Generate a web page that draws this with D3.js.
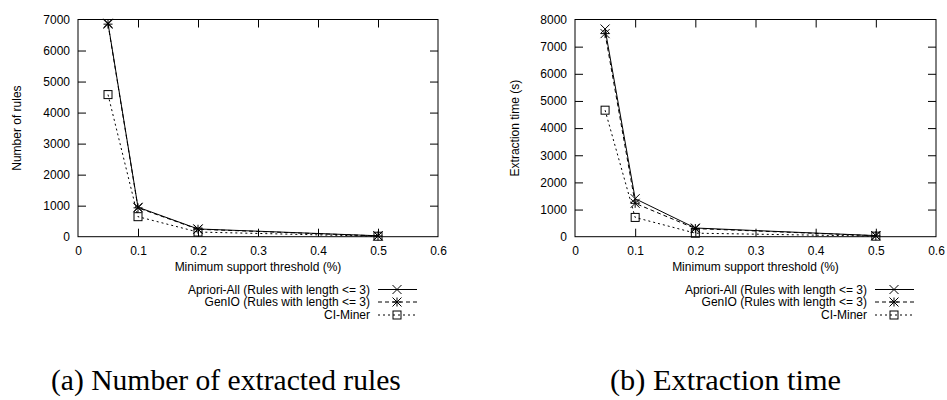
<!DOCTYPE html>
<html><head><meta charset="utf-8">
<script src="https://cdn.jsdelivr.net/npm/d3@7"></script>
<style>
body{margin:0;background:#fff;}
svg{display:block;}
text{fill:#000;}
</style></head>
<body>
<svg id="c" width="947" height="400"></svg>
<script>
// ---- data ----
const supportThresholds = [0.05, 0.1, 0.2, 0.5];
const seriesNames = ["Apriori-All (Rules with length <= 3)", "GenIO (Rules with length <= 3)", "CI-Miner"];
const aprioriRules = [6880, 950, 250, 30];
const genioRules = [6850, 930, 240, 25];
const ciminerRules = [4580, 645, 150, 15];
const aprioriTime = [7650, 1400, 320, 40];
const genioTime = [7480, 1230, 300, 35];
const ciminerTime = [4660, 710, 130, 20];
const xTicks = [0, 0.1, 0.2, 0.3, 0.4, 0.5, 0.6];
const yTicksRules = [0, 1000, 2000, 3000, 4000, 5000, 6000, 7000];
const yTicksTime = [0, 1000, 2000, 3000, 4000, 5000, 6000, 7000, 8000];
const xTitle = "Minimum support threshold (%)";
const captions = ["(a) Number of extracted rules", "(b) Extraction time"];

const SANS = "'Liberation Sans', Arial, sans-serif";
const SERIF = "'Liberation Serif', 'DejaVu Serif', serif";
const svg = d3.select("#c");
const styles = [
  {dash: null, marker: "x"},
  {dash: "4,3", marker: "star"},
  {dash: "2,3", marker: "box"}
];

function drawMarker(g, type, x, y) {
  const s = 4.5;
  if (type === "x" || type === "star") {
    g.append("line").attr("x1", x - s).attr("y1", y - s).attr("x2", x + s).attr("y2", y + s);
    g.append("line").attr("x1", x - s).attr("y1", y + s).attr("x2", x + s).attr("y2", y - s);
  }
  if (type === "star") {
    g.append("line").attr("x1", x - s).attr("y1", y).attr("x2", x + s).attr("y2", y);
    g.append("line").attr("x1", x).attr("y1", y - s).attr("x2", x).attr("y2", y + s);
  }
  if (type === "box") {
    g.append("rect").attr("x", x - 4).attr("y", y - 4).attr("width", 8).attr("height", 8).attr("fill", "none");
  }
}

function panel(cfg) {
  const {left, right, top, bottom, yMax, yTicks, yTitle, yTitleX, series, legendRight, caption, captionX, captionW} = cfg;
  const g = svg.append("g");
  const x = d3.scaleLinear().domain([0, 0.6]).range([left, right]);
  const y = d3.scaleLinear().domain([0, yMax]).range([bottom, top]);
  const tick = 8;

  const ax = g.append("g").attr("stroke", "#000").attr("stroke-width", 1).attr("fill", "none");
  ax.append("rect").attr("x", left).attr("y", top).attr("width", right - left).attr("height", bottom - top);
  const xb = g.append("g").attr("transform", `translate(0,${bottom})`)
    .call(d3.axisBottom(x).tickValues(xTicks).tickFormat(d3.format("~g")).tickSize(-tick).tickPadding(14));
  const xt = g.append("g").attr("transform", `translate(0,${top})`)
    .call(d3.axisTop(x).tickValues(xTicks).tickSize(-tick).tickFormat(""));
  const yl = g.append("g").attr("transform", `translate(${left},0)`)
    .call(d3.axisLeft(y).tickValues(yTicks).tickFormat(d3.format("d")).tickSize(-tick).tickPadding(8));
  const yr = g.append("g").attr("transform", `translate(${right},0)`)
    .call(d3.axisRight(y).tickValues(yTicks).tickSize(-tick).tickFormat(""));
  [xb, xt, yl, yr].forEach(a => {
    a.select(".domain").remove();
    a.selectAll("line").attr("stroke", "#000");
    a.selectAll("text").attr("font-size", 12).style("font-family", SANS).attr("fill", "#000");
  });
  xb.selectAll(".tick").filter(d => d === 0 || d === 0.6).select("line").remove();
  xt.selectAll(".tick").filter(d => d === 0 || d === 0.6).select("line").remove();
  yl.selectAll(".tick").filter(d => d === 0 || d === yMax).select("line").remove();
  yr.selectAll(".tick").filter(d => d === 0 || d === yMax).select("line").remove();
  xb.selectAll("text").attr("dy", "0.35em").attr("y", 14);

  g.append("text").attr("x", (left + right) / 2).attr("y", 271).attr("text-anchor", "middle")
    .attr("font-size", 12).style("font-family", SANS).text(xTitle);
  g.append("text").attr("transform", `translate(${yTitleX},${(top + bottom) / 2}) rotate(-90)`)
    .attr("text-anchor", "middle").attr("dy", "0.35em").attr("font-size", 12).style("font-family", SANS).text(yTitle);

  const line = d3.line().x(d => x(d[0])).y(d => y(d[1]));
  series.forEach((vals, i) => {
    const pts = supportThresholds.map((t, j) => [t, vals[j]]);
    g.append("path").datum(pts).attr("d", line).attr("fill", "none").attr("stroke", "#000")
      .attr("stroke-width", 1).attr("stroke-dasharray", styles[i].dash);
    const mg = g.append("g").attr("stroke", "#000").attr("stroke-width", 1);
    pts.forEach(p => drawMarker(mg, styles[i].marker, x(p[0]), y(p[1])));
  });

  const rowY = [289.5, 302, 315];
  seriesNames.forEach((name, i) => {
    g.append("text").attr("x", legendRight).attr("y", rowY[i]).attr("dy", "0.35em").attr("text-anchor", "end")
      .attr("font-size", 12).style("font-family", SANS).text(name);
    g.append("line").attr("x1", legendRight + 8).attr("x2", legendRight + 47).attr("y1", rowY[i]).attr("y2", rowY[i])
      .attr("stroke", "#000").attr("stroke-width", 1).attr("stroke-dasharray", styles[i].dash);
    const mg = g.append("g").attr("stroke", "#000").attr("stroke-width", 1);
    drawMarker(mg, styles[i].marker, legendRight + 27, rowY[i]);
  });

  const cap = svg.append("text").attr("x", captionX).attr("y", 390)
    .style("font-family", SERIF).attr("font-size", 22).text(caption);
  const w = cap.node().getComputedTextLength();
  cap.attr("font-size", 22 * captionW / w);
}

panel({left: 78, right: 438, top: 19.5, bottom: 236.7, yMax: 7000, yTicks: yTicksRules,
  yTitle: "Number of rules", yTitleX: 17, series: [aprioriRules, genioRules, ciminerRules],
  legendRight: 370, caption: captions[0], captionX: 51, captionW: 350});
panel({left: 575, right: 936, top: 19.5, bottom: 236.7, yMax: 8000, yTicks: yTicksTime,
  yTitle: "Extraction time (s)", yTitleX: 515, series: [aprioriTime, genioTime, ciminerTime],
  legendRight: 867, caption: captions[1], captionX: 610, captionW: 231});
</script>
</body></html>
